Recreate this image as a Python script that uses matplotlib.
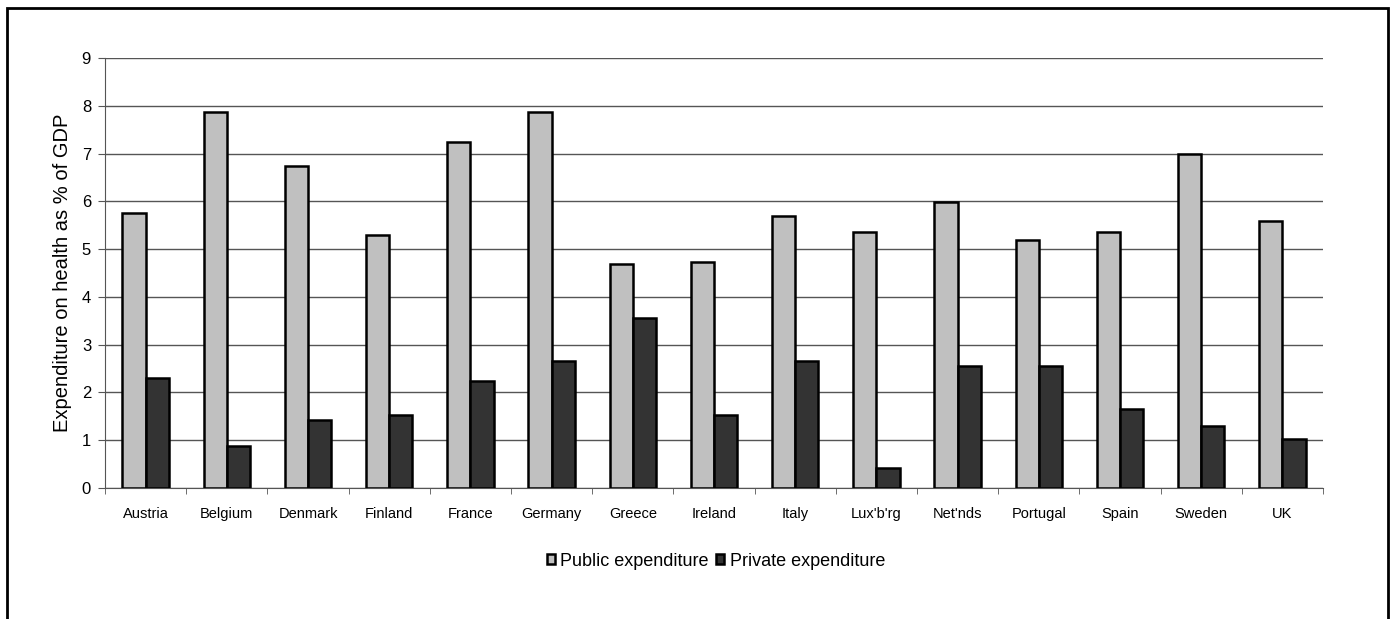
# Health expenditure chart, public vs private as % of GDP
import numpy as np
import matplotlib
matplotlib.use("Agg")
import matplotlib.pyplot as plt
from matplotlib.patches import Rectangle

plt.rcParams['font.family'] = ['Liberation Sans', 'DejaVu Sans']

# Data
countries = ["Austria", "Belgium", "Denmark", "Finland", "France", "Germany", "Greece",
             "Ireland", "Italy", "Lux'b'rg", "Net'nds", "Portugal", "Spain", "Sweden", "UK"]
public_exp = [5.75, 7.87, 6.75, 5.3, 7.25, 7.87, 4.68, 4.73, 5.7, 5.35, 5.98, 5.2, 5.35, 7.0, 5.58]
private_exp = [2.3, 0.87, 1.42, 1.52, 2.25, 2.65, 3.55, 1.52, 2.65, 0.42, 2.55, 2.55, 1.65, 1.3, 1.03]

fig = plt.figure(figsize=(13.96, 6.19), dpi=100)
ax = fig.add_axes([105 / 1396, 1 - 488 / 619, (1323 - 105) / 1396, (488 - 58) / 619])

# Outer frame around the whole chart
fig.patches.append(Rectangle((7 / 1396, -0.05), (1388 - 7) / 1396, 1 - 8 / 619 + 0.05,
                             transform=fig.transFigure, fill=False, edgecolor='black',
                             linewidth=2))

x = np.arange(len(countries))
w = 0.285
ax.bar(x - w / 2, public_exp, w, color='#C0C0C0', edgecolor='black', linewidth=1.8,
       label='Public expenditure', zorder=3)
ax.bar(x + w / 2, private_exp, w, color='#333333', edgecolor='black', linewidth=1.8,
       label='Private expenditure', zorder=3)

ax.set_xlim(-0.5, len(countries) - 0.5)
ax.set_ylim(0, 9)
ax.set_yticks(range(10))
ax.yaxis.grid(True, color='#555555', linewidth=1)
ax.set_axisbelow(True)

ax.set_xticks(x)
ax.set_xticklabels(countries, fontsize=10.5)
ax.set_xticks(np.arange(-0.5, len(countries)), minor=True)
ax.tick_params(axis='x', which='major', length=0, pad=14)
ax.tick_params(axis='x', which='minor', length=4, color='#555555')
ax.tick_params(axis='y', labelsize=12, length=5, color='#555555', pad=5)

for s in ['top', 'right']:
    ax.spines[s].set_visible(False)
for s in ['left', 'bottom']:
    ax.spines[s].set_color('#555555')

ax.set_ylabel("Expenditure on health as % of GDP", fontsize=14.5)
ax.yaxis.set_label_coords(-0.027, 0.5)

fig.legend(loc='center', bbox_to_anchor=(716 / 1396, 1 - 561 / 619), ncol=2,
           frameon=False, fontsize=13, handlelength=0.45, handleheight=0.45,
           handletextpad=0.3, columnspacing=0.4)

fig.savefig("out.png", dpi=100)
